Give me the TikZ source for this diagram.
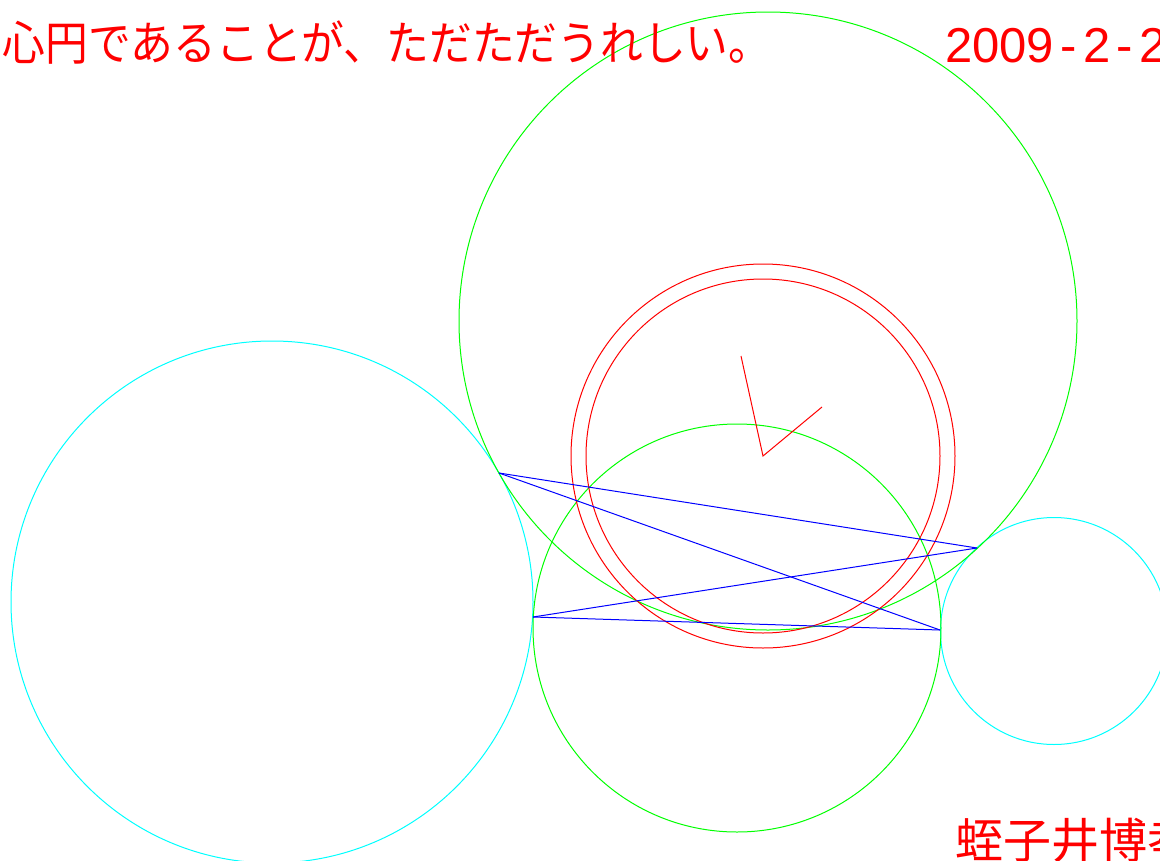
\documentclass[tikz,border=0pt]{standalone}
\usepackage{fontspec}
\newfontfamily\jpfont{Noto Sans CJK JP}
\newfontfamily\datefont{Liberation Sans}
\definecolor{pred}{RGB}{255,0,0}
\definecolor{pgreen}{RGB}{0,255,0}
\definecolor{pcyan}{RGB}{0,255,255}
\definecolor{pblue}{RGB}{0,0,255}
\tikzset{
  ring/.style={draw, circle, inner sep=0pt, line width=1pt},
  chord/.style={draw=pblue, line width=1pt},
  hand/.style={draw=pred, line width=1pt},
  label/.style={inner sep=0pt, text=pred}
}
\begin{document}
\begin{tikzpicture}[x=1pt,y=-1pt]
\useasboundingbox (0,0) rectangle (1160,860);
\clip (0,0) rectangle (1160,860);
\fill[white] (0,0) rectangle (1160,860);
% circles
\node[ring, draw=pcyan, minimum size=522pt] (bigcyan) at (272,602) {};
\node[ring, draw=pcyan, minimum size=227pt] (smallcyan) at (1054,631) {};
\node[ring, draw=pgreen, minimum size=618pt] (biggreen) at (768,321) {};
\node[ring, draw=pgreen, minimum size=408pt] (smallgreen) at (737,628) {};
\node[ring, draw=pred, minimum size=384pt] (redouter) at (763,456) {};
\node[ring, draw=pred, minimum size=354pt] (redinner) at (763,456) {};
% tangent points
\coordinate (A) at (499,473);
\coordinate (B) at (533,617);
\coordinate (C) at (977,548);
\coordinate (D) at (940,630);
\draw[chord] (A) -- (C);
\draw[chord] (A) -- (D);
\draw[chord] (B) -- (C);
\draw[chord] (B) -- (D);
% hands
\coordinate (h1) at (741,356);
\coordinate (h0) at (763,456);
\coordinate (h2) at (822,407);
\draw[hand] (h1) -- (h0) -- (h2);
% texts
\node[label, anchor=base west, xscale=0.91] (title) at (-40,60) {\fontsize{47}{47}\jpfont 同心円であることが、ただただうれしい。};
\node[label, anchor=base west] (date) at (945,62) {\fontsize{49}{49}\datefont 2009\makebox[29pt]{-}2\makebox[29pt]{-}2};
\node[label, anchor=base west] (author) at (955,858) {\fontsize{48}{48}\jpfont 蛭子井博孝};
\end{tikzpicture}
\end{document}
